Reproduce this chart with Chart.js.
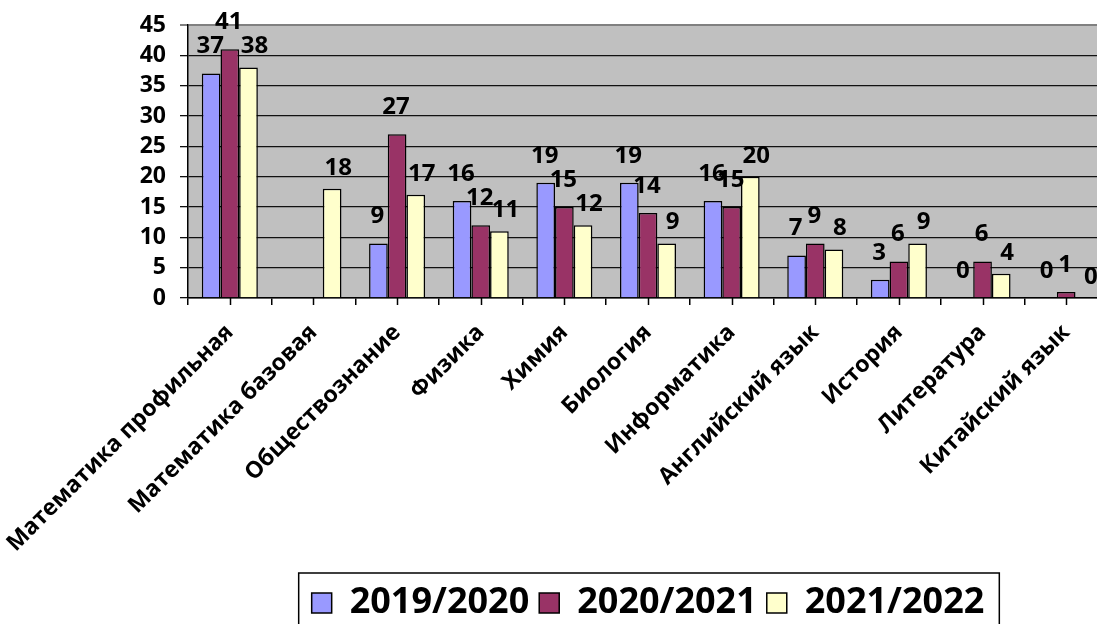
<!DOCTYPE html>
<html>
<head>
<meta charset="utf-8">
<script src="https://cdn.jsdelivr.net/npm/chart.js@4.4.0/dist/chart.umd.min.js"></script>
<style>
  html, body { margin: 0; padding: 0; background: #fff; overflow: hidden; }
  canvas { display: block; }
</style>
</head>
<body>
<canvas id="chart" width="1110" height="633"></canvas>
<script>
const subjects = [
  "Математика профильная", "Математика базовая", "Обществознание", "Физика",
  "Химия", "Биология", "Информатика", "Английский язык", "История",
  "Литература", "Китайский язык"
];
const years = ["2019/2020", "2020/2021", "2021/2022"];
const y2019 = [37, null, 9, 16, 19, 19, 16, 7, 3, 0, 0];
const y2020 = [41, null, 27, 12, 15, 14, 15, 9, 6, 6, 1];
const y2021 = [38, 18, 17, 11, 12, 9, 20, 8, 9, 4, 0];
const colors = ["#9999FF", "#993366", "#FFFFCC"];

const FONT = "'Open Sans', 'DejaVu Sans', sans-serif";

// gray plot area
const plotBg = {
  id: "plotBg",
  beforeDraw(chart) {
    const a = chart.chartArea, ctx = chart.ctx;
    ctx.save();
    ctx.fillStyle = "#C0C0C0";
    ctx.fillRect(a.left, a.top, a.right - a.left, a.bottom - a.top);
    ctx.restore();
  }
};

// extra tick marks at category centres + value labels + legend frame
const extras = {
  id: "extras",
  afterDatasetsDraw(chart) {
    const ctx = chart.ctx;
    const dx = [-1, -1, 6];
    const dy = [-27, -27, -21];
    ctx.save();
    ctx.fillStyle = "#000";
    ctx.font = "bold 24px " + FONT;
    ctx.textAlign = "center";
    ctx.textBaseline = "middle";
    chart.data.datasets.forEach((ds, i) => {
      chart.getDatasetMeta(i).data.forEach((bar, j) => {
        const v = ds.data[j];
        if (v === null) return;
        ctx.fillText(String(v), bar.x + dx[i], bar.y + dy[i]);
      });
    });
    ctx.restore();
  },
  afterDraw(chart) {
    const ctx = chart.ctx;
    const x = chart.scales.x;
    ctx.save();
    ctx.strokeStyle = "#000";
    ctx.lineWidth = 1.5;
    ctx.beginPath();
    subjects.forEach((s, i) => {
      const px = Math.round(x.getPixelForValue(i)) + 0.5;
      ctx.moveTo(px, x.top);
      ctx.lineTo(px, x.top + 7);
    });
    ctx.stroke();

    const lg = chart.legend;
    if (lg && lg.legendHitBoxes && lg.legendHitBoxes.length) {
      const hb = lg.legendHitBoxes;
      const l = Math.min(...hb.map(h => h.left)) - 13;
      const r = Math.max(...hb.map(h => h.left + h.width)) + 15;
      ctx.lineWidth = 1.5;
      ctx.strokeRect(l, lg.top - 2, r - l, lg.bottom - lg.top + 8);
    }
    ctx.restore();
  }
};

new Chart(document.getElementById("chart"), {
  type: "bar",
  data: {
    labels: subjects,
    datasets: [
      { label: years[0], data: y2019, backgroundColor: colors[0] },
      { label: years[1], data: y2020, backgroundColor: colors[1] },
      { label: years[2], data: y2021, backgroundColor: colors[2] }
    ].map(d => Object.assign(d, {
      borderColor: "#000",
      borderWidth: 1.5,
      categoryPercentage: 0.67,
      barPercentage: 1.0
    }))
  },
  options: {
    responsive: false,
    animation: false,
    devicePixelRatio: 1,
    layout: { padding: { left: 0, top: 25, right: 2, bottom: 2 } },
    plugins: {
      legend: {
        position: "bottom",
        fullSize: false,
        labels: {
          color: "#000",
          font: { family: FONT, size: 36, weight: "bold" },
          boxWidth: 20,
          boxHeight: 20,
          padding: 10
        }
      },
      tooltip: { enabled: false }
    },
    scales: {
      x: {
        afterFit(s) {
          s.height = 277;
          s.paddingLeft = 0;
          s.paddingRight = 0;
        },
        grid: {
          display: true,
          drawOnChartArea: false,
          drawTicks: true,
          tickLength: 7,
          color: "#000",
          lineWidth: 1.5
        },
        border: { color: "#000", width: 1.5 },
        ticks: {
          autoSkip: false,
          maxRotation: 45,
          minRotation: 45,
          padding: 14,
          color: "#000",
          font: { family: FONT, size: 23, weight: "bold" }
        }
      },
      y: {
        min: 0,
        max: 45,
        afterFit(s) {
          s.width = 188;
          s.paddingTop = 0;
          s.paddingBottom = 0;
        },
        grid: {
          color: ctx => (ctx.tick && ctx.tick.value === 45 ? "#808080" : "#111"),
          lineWidth: ctx => (ctx.tick && ctx.tick.value === 45 ? 2 : 1.3),
          tickLength: 8
        },
        border: { color: "#000", width: 1.5 },
        ticks: {
          stepSize: 5,
          maxTicksLimit: 20,
          padding: 14,
          color: "#000",
          font: { family: FONT, size: 23, weight: "bold", lineHeight: 1 }
        }
      }
    }
  },
  plugins: [plotBg, extras]
});
</script>
</body>
</html>
